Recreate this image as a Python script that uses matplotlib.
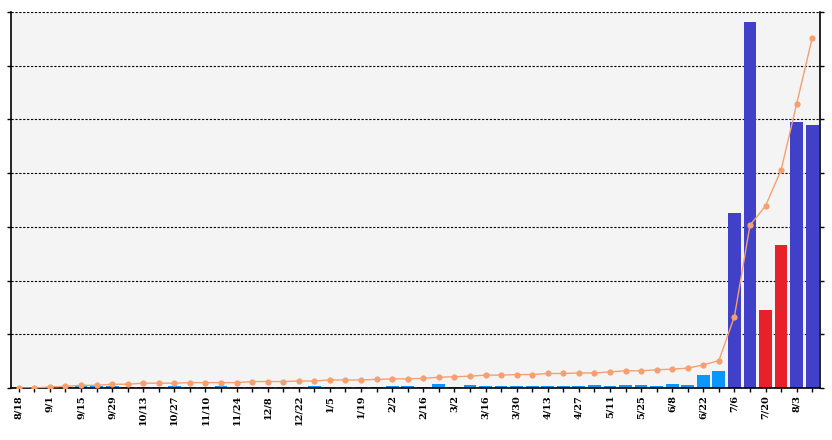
import numpy as np
import matplotlib.pyplot as plt

# weekly categories (week starting dates)
weeks = ['8/18', '8/25', '9/1', '9/8', '9/15', '9/22', '9/29', '10/6', '10/13', '10/20',
         '10/27', '11/3', '11/10', '11/17', '11/24', '12/1', '12/8', '12/15', '12/22', '12/29',
         '1/5', '1/12', '1/19', '1/26', '2/2', '2/9', '2/16', '2/23', '3/2', '3/9',
         '3/16', '3/23', '3/30', '4/6', '4/13', '4/20', '4/27', '5/4', '5/11', '5/18',
         '5/25', '6/1', '6/8', '6/15', '6/22', '6/29', '7/6', '7/13', '7/20', '7/27',
         '8/3', '8/10']

# weekly values (bars) in grid units
weekly = [0.02, 0.02, 0.02, 0.02, 0.04, 0.04, 0.04, 0.02, 0.02, 0.02,
          0.04, 0.02, 0.02, 0.04, 0.02, 0.02, 0.02, 0.02, 0.02, 0.04,
          0.02, 0.02, 0.02, 0.02, 0.04, 0.04, 0.02, 0.07, 0.02, 0.05,
          0.04, 0.04, 0.04, 0.04, 0.04, 0.04, 0.04, 0.05, 0.04, 0.05,
          0.05, 0.04, 0.07, 0.05, 0.24, 0.32, 3.26, 6.82, 1.45, 2.66,
          4.95, 4.90]

# running line
trend = [0.00, 0.00, 0.02, 0.03, 0.05, 0.05, 0.07, 0.07, 0.09, 0.09,
         0.09, 0.10, 0.10, 0.10, 0.10, 0.12, 0.12, 0.12, 0.13, 0.13,
         0.15, 0.15, 0.15, 0.16, 0.17, 0.17, 0.18, 0.20, 0.21, 0.22,
         0.24, 0.24, 0.25, 0.25, 0.27, 0.27, 0.28, 0.28, 0.30, 0.32,
         0.32, 0.34, 0.35, 0.37, 0.43, 0.51, 1.33, 3.03, 3.39, 4.06,
         5.29, 6.52]

# bar colour group per week
group = ['light'] * 46 + ['dark', 'dark', 'red', 'red', 'dark', 'dark']
palette = {'light': '#0A96FA', 'dark': '#4040C8', 'red': '#E8202A'}

x = np.arange(len(weeks))

fig = plt.figure(figsize=(8.32, 4.4), dpi=100)
ax = fig.add_axes([11 / 832, 1 - 388 / 440, 809 / 832, 376 / 440])
ax.set_facecolor('#F4F4F4')

ax.bar(x, weekly, width=0.82, color=[palette[g] for g in group], zorder=2)
ax.plot(x, trend, color='#F4A070', lw=1, marker='o', markersize=4.5,
        markeredgewidth=0, zorder=3)

ax.set_xlim(-0.5, len(weeks) - 0.5)
ax.set_ylim(0, 7)
ax.set_yticks(np.arange(0, 8))
ax.yaxis.grid(True, color='black', linestyle=(0, (2, 1.5)), lw=0.8, zorder=1)
ax.tick_params(axis='y', left=True, right=True, labelleft=False, length=3, width=1)

ax.set_xticks(x)
ax.set_xticklabels([w if i % 2 == 0 else '' for i, w in enumerate(weeks)],
                   rotation=90, fontsize=7, fontweight='bold', family='DejaVu Serif')
ax.tick_params(axis='x', length=3, width=1, pad=2)

ax.spines['top'].set_visible(False)
for s in ['left', 'right', 'bottom']:
    ax.spines[s].set_linewidth(1.2)

fig.savefig('out.png', dpi=100)
